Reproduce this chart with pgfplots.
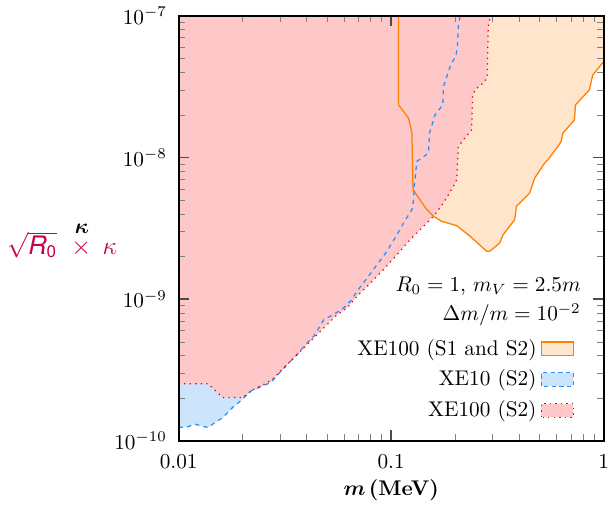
\documentclass[border=0pt]{standalone}
\usepackage{pgfplots}
\pgfplotsset{compat=1.18}
\usepackage{amsmath}
\usepackage{bm}
\usepackage{fontspec}
\newfontfamily\heros{TeX Gyre Heros}
\definecolor{ofill}{RGB}{255,229,204}
\definecolor{oline}{RGB}{255,128,0}
\definecolor{bfill}{RGB}{204,228,252}
\definecolor{bline}{RGB}{40,145,255}
\definecolor{rfill}{RGB}{255,200,200}
\definecolor{rline}{RGB}{240,0,0}
\definecolor{ylab}{RGB}{200,0,80}

\pgfplotstableread{
m y
0.1084 1e-7
0.1084 2.35e-8
0.1208 1.89e-8
0.1252 1.484e-8
0.1266 6.08e-9
0.1298 5.61e-9
0.1472 4.28e-9
0.1582 3.84e-9
0.1730 3.54e-9
0.2034 3.30e-9
0.2349 2.78e-9
0.2811 2.18e-9
0.2913 2.18e-9
0.3245 2.49e-9
0.3365 2.85e-9
0.3815 3.64e-9
0.3885 4.52e-9
0.4487 5.61e-9
0.4737 7.15e-9
0.5274 9.12e-9
0.5466 9.63e-9
0.6087 1.196e-8
0.6312 1.297e-8
0.6427 1.484e-8
0.7289 1.842e-8
0.7368 2.35e-8
0.8567 2.996e-8
0.8882 3.82e-8
1.0 4.74e-8
}\orangeline

\pgfplotstableread{
m y
0.01 1.24e-10
0.01106 1.255e-10
0.01188 1.31e-10
0.01277 1.275e-10
0.01372 1.24e-10
0.01448 1.31e-10
0.01613 1.46e-10
0.01796 1.72e-10
0.0200 1.966e-10
0.0219 2.25e-10
0.02439 2.41e-10
0.02716 2.58e-10
0.03137 3.28e-10
0.03622 4.08e-10
0.04035 4.93e-10
0.04335 5.49e-10
0.04829 7.19e-10
0.05377 7.80e-10
0.05992 8.69e-10
0.06437 9.68e-10
0.06918 1.14e-9
0.07706 1.41e-9
0.08583 1.75e-9
0.09561 2.18e-9
0.1065 2.85e-9
0.1144 3.45e-9
0.1252 4.28e-9
0.1275 5.03e-9
0.1284 6.25e-9
0.1321 9.37e-9
0.1498 1.073e-8
0.1515 1.484e-8
0.1610 2.00e-8
0.1749 2.35e-8
0.1762 3.16e-8
0.1893 4.37e-8
0.2020 5.28e-8
0.2049 6.05e-8
0.2071 8.37e-8
0.2109 1e-7
}\blueline

\pgfplotstableread{
m y
0.01 2.53e-10
0.01372 2.53e-10
0.01613 2.02e-10
0.0200 2.02e-10
0.0219 2.25e-10
0.02528 2.51e-10
0.02766 2.72e-10
0.03137 3.28e-10
0.03622 4.08e-10
0.04182 5.06e-10
0.04829 6.28e-10
0.05476 7.59e-10
0.06211 8.69e-10
0.06918 1.05e-9
0.07990 1.30e-9
0.09223 1.62e-9
0.1065 2.06e-9
0.1230 2.63e-9
0.1420 3.27e-9
0.1582 3.84e-9
0.1762 4.77e-9
0.1963 6.25e-9
0.2034 6.96e-9
0.2071 1.196e-8
0.2186 1.33e-8
0.2391 1.566e-8
0.2417 2.69e-8
0.2479 2.996e-8
0.2761 3.43e-8
0.2831 3.72e-8
0.2862 8.37e-8
0.2934 1e-7
}\redline

\begin{document}
\begin{tikzpicture}
\begin{axis}[
  scale only axis,
  width=200pt, height=200pt,
  xmode=log, ymode=log,
  xmin=0.01, xmax=1, ymin=1e-10, ymax=1e-7,
  xtick={0.01,0.1,1}, xticklabels={0.01,0.1,1},
  ytick={1e-10,1e-9,1e-8,1e-7},
  yticklabels={$10^{-10}$,$10^{-9}$,$10^{-8}$,$10^{-7}$},
  xticklabel style={inner xsep=0pt, yshift=-3pt},
  yticklabel style={xshift=-2pt},
  tick align=inside,
  major tick length=5pt, minor tick length=3pt,
  every major tick/.style={black!70, line width=0.8pt},
  axis line style={line width=0.8pt},
  axis on top,
  xlabel={\textbf{$\bm{m}$\,(MeV)}},
  ylabel={\large$\color{ylab}\sqrt{\text{\heros\itshape R}_{\text{\heros 0}}}\;\;\rlap{\hspace{1.6pt}\raisebox{1.9ex}{\normalsize\color{black}$\bm{\kappa}$}}{\times}\;\,\kappa$},
  ylabel style={rotate=-90, at={(rel axis cs:0,0.47)}, anchor=east, xshift=-25.5pt},
  xlabel style={yshift=2pt},
  legend style={draw=none, fill=none, at={(rel axis cs:0.946,0.028)}, anchor=south east, row sep=1.5pt},
  legend cell align=right,
  legend plot pos=right,
  legend image code/.code={\draw[#1] (0pt,-3.2pt) rectangle (15pt,3.2pt);},
]
\addlegendimage{draw=oline, fill=ofill, line width=0.6pt}
\addlegendentry{XE100 (S1 and S2)}
\addlegendimage{draw=bline, fill=bfill, dash pattern=on 2pt off 1.6pt, line width=0.6pt}
\addlegendentry{XE10 (S2)}
\addlegendimage{draw=rline, fill=rfill, dotted, line width=0.6pt}
\addlegendentry{XE100 (S2)}

\addplot[fill=ofill, draw=none, forget plot] table {\orangeline} -- (axis cs:1,1e-7) -- cycle;
\addplot[fill=bfill, draw=none, forget plot] table {\blueline} -- (axis cs:0.01,1e-7) -- cycle;
\addplot[fill=rfill, draw=none, forget plot] table {\redline} -- (axis cs:0.01,1e-7) -- cycle;

\addplot[oline, line width=0.6pt, forget plot] table {\orangeline};
\addplot[bline, dash pattern=on 2pt off 2pt, line width=0.6pt, forget plot] table {\blueline};
\addplot[rline, dotted, line width=0.6pt, forget plot] table {\redline};

\node[anchor=north east, align=right, inner sep=0pt] at (rel axis cs:0.947,0.387)
  {$R_0=1$, $m_V=2.5m$\\[2pt] $\Delta m/m=10^{-2}$};
\end{axis}
\end{tikzpicture}
\end{document}
